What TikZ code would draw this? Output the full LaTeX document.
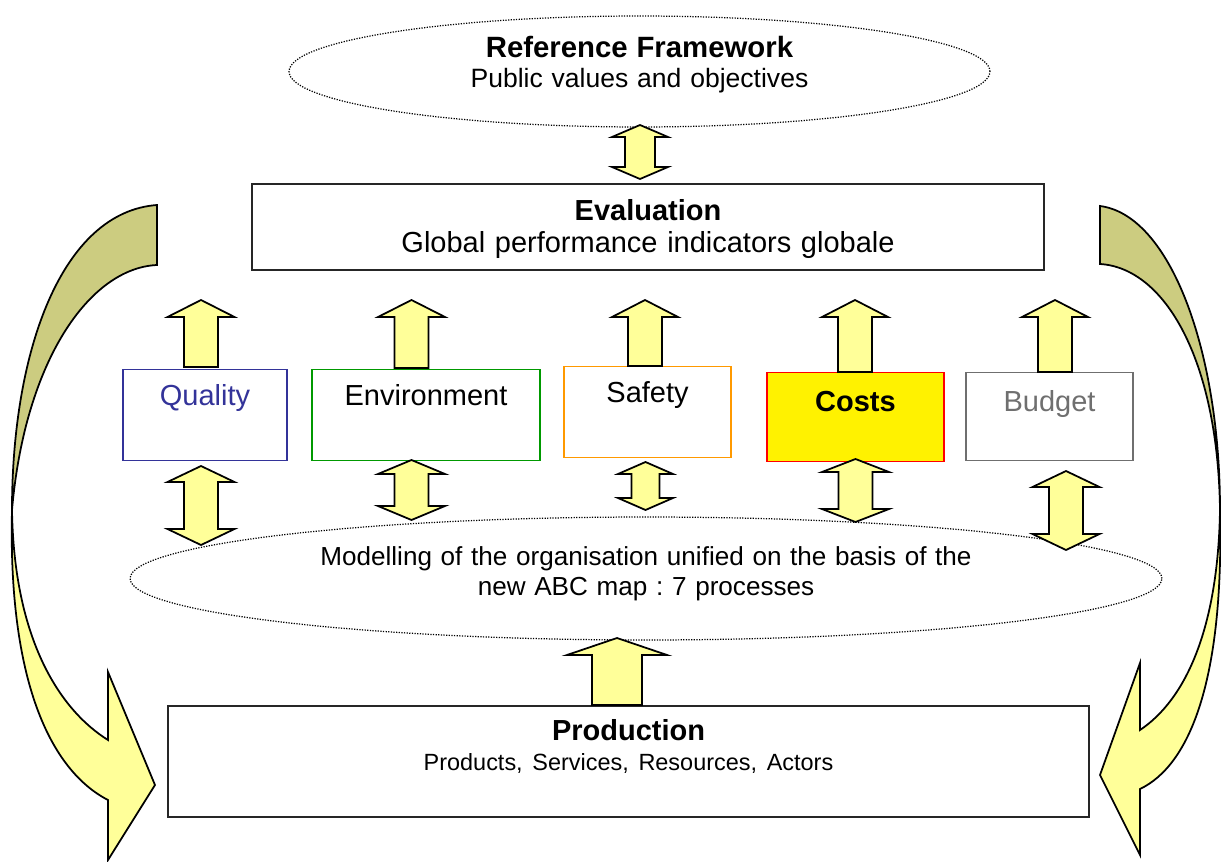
\documentclass[tikz,border=0pt]{standalone}
\usepackage{fontspec}
\setmainfont{Liberation Sans}
\usepackage{tikz}
\usetikzlibrary{shapes.geometric}
\definecolor{arrowyellow}{HTML}{FFFF99}
\definecolor{curveolive}{HTML}{CCCC80}
\definecolor{qualblue}{HTML}{333399}
\definecolor{envgreen}{HTML}{009900}
\definecolor{safeorange}{HTML}{FF9900}
\definecolor{budgetgray}{HTML}{6F6F6F}
\frenchspacing

\begin{document}
\begin{tikzpicture}
[x=0.02cm, y=-0.02cm,
frame/.style ={rectangle, draw=black!85, line width=0.9pt, inner sep=0pt, anchor=north, align=center},
cat/.style ={rectangle, line width=0.8pt, inner sep=0pt, anchor=north, text height=0.72cm, text depth=1.1cm, font=\fontsize{16.5}{18}\selectfont},
cloud/.style ={ellipse, draw=black, line width=0.7pt, dash pattern=on 0.7pt off 0.8pt, inner sep=0pt, align=center},
block/.style ={draw=black, line width=1pt, fill=arrowyellow, line join=miter},
twist/.style ={draw=black, line width=1pt, fill=curveolive},
pics/uparrow/.style n args={4}{code={
	\draw[block] (-#3, 0) -- (-#3, -#1+#4) -- (-#2, -#1+#4) -- (0, -#1) -- (#2, -#1+#4) -- (#3, -#1+#4) -- (#3, 0) -- cycle;}},
pics/dblarrow/.style n args={4}{code={
	\draw[block] (0, 0) -- (#2, #4) -- (#3, #4) -- (#3, #1-#4) -- (#2, #1-#4) -- (0, #1) -- (-#2, #1-#4) -- (-#3, #1-#4) -- (-#3, #4) -- (-#2, #4) -- cycle;}}]
\useasboundingbox (0, 0) rectangle (1221, 862);
\draw[twist] (157, 205) .. controls (62, 212) and (12, 350) .. (12, 510) .. controls (25, 360) and (90, 268) .. (157, 265) -- cycle;
\draw[block] (12, 510) .. controls (14, 640) and (60, 710) .. (108, 740) -- (108, 672) -- (155, 785) -- (108, 860) -- (108, 800) .. controls (50, 770) and (8, 680) .. (12, 510) -- cycle;
\draw[twist] (1100, 206) .. controls (1170, 215) and (1220, 350) .. (1220, 510) .. controls (1218, 360) and (1165, 268) .. (1100, 264) -- cycle;
\draw[block] (1220, 510) .. controls (1218, 630) and (1185, 700) .. (1140, 730) -- (1140, 663) -- (1100, 775) -- (1140, 855) -- (1140, 789) .. controls (1190, 765) and (1224, 680) .. (1220, 510) -- cycle;
\draw (639.5, 71.5) node[cloud, minimum width=14.02cm, minimum height=2.22cm, text width=9cm, text height=0.4cm, text depth=0.98cm, font=\fontsize{15.1}{17.6}\selectfont] (ref) {{\fontsize{16.7}{17.6}\selectfont\bfseries Reference Framework}\\Public values and objectives};
\draw (648, 183) node[frame, text width=15.84cm, text height=0.74cm, text depth=0.98cm, font=\fontsize{16.5}{18.2}\selectfont] (eval) {\textbf{Evaluation}\\Global performance indicators globale};
\draw (205, 369) node[cat, draw=qualblue, text=qualblue, minimum width=3.28cm] (qual) {Quality};
\draw (426, 369) node[cat, draw=envgreen, minimum width=4.56cm] (env) {Environment};
\draw (647.5, 366) node[cat, draw=safeorange, minimum width=3.34cm] (safe) {Safety};
\draw (855.5, 372) node[cat, draw=red, fill=yellow, minimum width=3.54cm, text height=0.78cm, text depth=1cm, font=\fontsize{16.5}{18}\selectfont\bfseries] (costs) {Costs};
\draw (1049.5, 372) node[cat, draw=budgetgray, text=budgetgray, minimum width=3.34cm, text height=0.78cm, text depth=0.98cm] (budget) {Budget};
\draw (646, 578.5) node[cloud, minimum width=20.64cm, minimum height=2.46cm, text width=14cm, text height=0.4cm, text depth=0.94cm, font=\fontsize{14.85}{17.6}\selectfont] (model) {Modelling of the organisation unified on the basis of the\\new ABC map : 7 processes};
\draw (628.5, 705) node[frame, text width=18.42cm, text height=0.7cm, text depth=1.52cm, font=\fontsize{16.5}{17}\selectfont] (prod) {\textbf{Production}\\{\fontsize{13.35}{17}\selectfont Products, Services, Resources, Actors}};
\pic at (640, 125) {dblarrow={54}{28}{15}{12}};
\pic at (201, 367) {uparrow={67}{33.5}{17}{17}};
\pic at (411.5, 368) {uparrow={68}{33.5}{17}{17}};
\pic at (645, 366) {uparrow={66}{33}{17}{17}};
\pic at (855, 372) {uparrow={72}{33}{17}{17}};
\pic at (1055, 372) {uparrow={72}{33}{17}{17}};
\pic at (201, 466) {dblarrow={79}{33.5}{17}{16}};
\pic at (411.5, 460) {dblarrow={60}{33.5}{17}{14}};
\pic at (645.5, 462) {dblarrow={48}{27.5}{14}{12}};
\pic at (855.5, 459) {dblarrow={63}{33.5}{17}{13}};
\pic at (1066, 471) {dblarrow={79}{33.5}{17}{16}};
\pic at (617, 705) {uparrow={67}{50}{25}{17}};
\end{tikzpicture}
\end{document}
